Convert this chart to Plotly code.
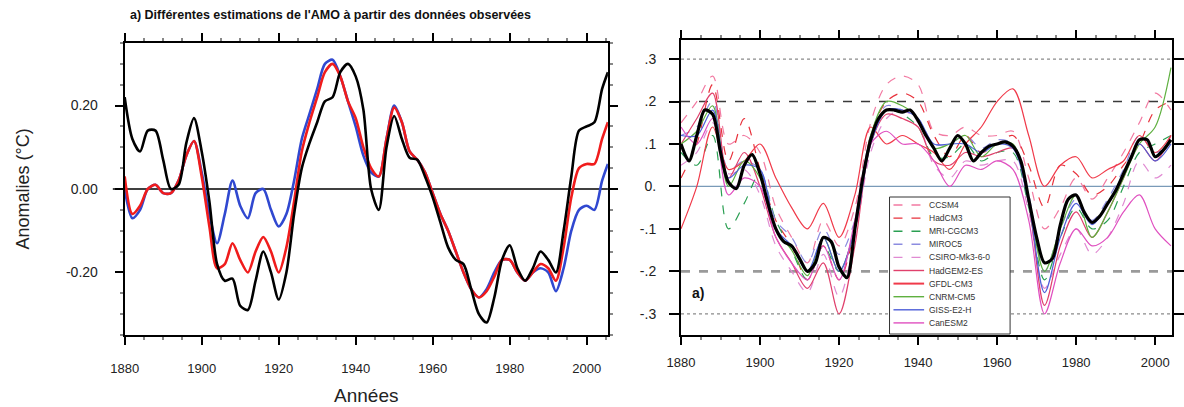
import plotly.graph_objects as go

# ---------------- Left panel data (observed AMO estimates) ----------------
years_obs = list(range(1880, 2005, 2)) + [2005.5]
amo_black = [0.22, 0.12, 0.09, 0.14, 0.14, 0.07, 0.00, 0.01, 0.11, 0.17,
             0.09, -0.03, -0.18, -0.22, -0.215, -0.28, -0.29, -0.22, -0.15, -0.20,
             -0.265, -0.20, -0.06, 0.05, 0.11, 0.16, 0.21, 0.22, 0.28, 0.30,
             0.27, 0.19, 0.00, -0.05, 0.10, 0.175, 0.12, 0.075, 0.07, 0.03,
             -0.02, -0.08, -0.14, -0.17, -0.18, -0.24, -0.30, -0.32, -0.26, -0.17,
             -0.135, -0.19, -0.22, -0.19, -0.15, -0.17, -0.20, -0.10, 0.03, 0.14,
             0.15, 0.16, 0.24, 0.28]
amo_red = [0.03, -0.06, -0.04, 0.00, 0.01, -0.01, -0.01, 0.02, 0.08, 0.115,
           0.03, -0.09, -0.19, -0.18, -0.13, -0.17, -0.20, -0.15, -0.115, -0.15,
           -0.20, -0.14, -0.03, 0.09, 0.16, 0.22, 0.28, 0.30, 0.27, 0.21,
           0.17, 0.10, 0.05, 0.03, 0.12, 0.195, 0.16, 0.09, 0.07, 0.04,
           -0.01, -0.06, -0.10, -0.15, -0.20, -0.24, -0.26, -0.245, -0.21, -0.17,
           -0.17, -0.20, -0.22, -0.20, -0.18, -0.19, -0.22, -0.14, -0.02, 0.05,
           0.06, 0.06, 0.12, 0.16]
amo_blue = [0.00, -0.07, -0.05, 0.00, 0.01, -0.01, -0.01, 0.02, 0.08, 0.115,
            0.04, -0.06, -0.13, -0.06, 0.02, -0.04, -0.07, -0.01, 0.00, -0.05,
            -0.09, -0.06, 0.02, 0.12, 0.18, 0.24, 0.30, 0.31, 0.27, 0.21,
            0.15, 0.08, 0.04, 0.03, 0.12, 0.20, 0.16, 0.09, 0.07, 0.04,
            -0.01, -0.06, -0.10, -0.15, -0.20, -0.24, -0.26, -0.24, -0.20, -0.17,
            -0.17, -0.20, -0.22, -0.20, -0.19, -0.20, -0.245, -0.19, -0.10, -0.05,
            -0.04, -0.05, 0.02, 0.06]

obs_ticks = [-0.2, 0.0, 0.2]
obs_ticktext = ["-0.20", "0.00", "0.20"]
year_ticks = [1880, 1900, 1920, 1940, 1960, 1980, 2000]

# ---------------- Right panel data (CMIP5 models) ----------------
years_mean = list(range(1880, 2005, 2))
ens_mean = [0.10, 0.06, 0.12, 0.18, 0.17, 0.08, 0.01, -0.005, 0.05, 0.075,
            0.03, -0.04, -0.10, -0.13, -0.14, -0.17, -0.20, -0.18, -0.12, -0.13,
            -0.19, -0.215, -0.10, 0.02, 0.11, 0.16, 0.18, 0.18, 0.175, 0.18,
            0.155, 0.12, 0.09, 0.06, 0.09, 0.12, 0.10, 0.06, 0.08, 0.095,
            0.10, 0.105, 0.095, 0.06, -0.03, -0.12, -0.18, -0.17, -0.09, -0.03,
            -0.02, -0.06, -0.085, -0.07, -0.04, -0.01, 0.03, 0.07, 0.11, 0.11,
            0.07, 0.085, 0.11]

years_mod = list(range(1880, 2005, 4))
model_names = ["CCSM4", "HadCM3", "MRI-CGCM3", "MIROC5", "CSIRO-Mk3-6-0",
               "HadGEM2-ES", "GFDL-CM3", "CNRM-CM5", "GISS-E2-H", "CanESM2"]
model_vals = {
    "CCSM4": [0.15, 0.20, 0.26, 0.10, 0.12, 0.08, -0.05, -0.12, -0.18, -0.08, -0.14, -0.05, 0.15, 0.24, 0.26, 0.24,
              0.13, 0.12, 0.14, 0.12, 0.12, 0.13, 0.02, -0.10, -0.05, 0.02, -0.03, 0.02, 0.08, 0.15, 0.22, 0.18],
    "HadCM3": [0.02, 0.10, 0.24, 0.06, 0.16, 0.04, -0.08, -0.14, -0.22, -0.14, -0.22, -0.10, 0.12, 0.20, 0.22, 0.20,
               0.12, 0.07, 0.12, 0.08, 0.10, 0.12, 0.05, -0.05, 0.05, 0.03, -0.02, 0.00, 0.05, 0.10, 0.18, 0.20],
    "MRI-CGCM3": [0.08, 0.05, 0.12, -0.10, -0.04, 0.03, -0.08, -0.15, -0.22, -0.14, -0.20, -0.10, 0.10, 0.18, 0.17, 0.14,
                  0.07, 0.07, 0.10, 0.06, 0.08, 0.08, -0.05, -0.22, -0.12, -0.05, -0.10, -0.08, 0.00, 0.08, 0.10, 0.12],
    "MIROC5": [0.12, 0.14, 0.20, 0.04, 0.06, 0.04, -0.08, -0.12, -0.18, -0.10, -0.16, -0.08, 0.12, 0.19, 0.18, 0.16,
               0.10, 0.10, 0.12, 0.09, 0.11, 0.10, -0.02, -0.20, -0.10, -0.03, -0.08, -0.03, 0.04, 0.12, 0.08, 0.10],
    "CSIRO-Mk3-6-0": [0.05, 0.08, 0.15, 0.03, 0.04, -0.02, -0.14, -0.20, -0.25, -0.16, -0.26, -0.12, 0.08, 0.16, 0.18, 0.15,
                      0.05, 0.02, 0.06, 0.05, 0.06, 0.06, -0.06, -0.24, -0.16, -0.10, -0.16, -0.12, -0.04, 0.06, 0.02, 0.05],
    "HadGEM2-ES": [0.10, 0.16, 0.22, 0.02, 0.08, 0.00, -0.12, -0.18, -0.24, -0.18, -0.30, -0.14, 0.10, 0.17, 0.16, 0.14,
                   0.06, 0.05, 0.08, 0.07, 0.08, 0.09, -0.04, -0.28, -0.14, -0.06, -0.12, -0.06, 0.02, 0.10, 0.06, 0.12],
    "GFDL-CM3": [-0.10, 0.00, 0.14, 0.04, 0.06, 0.10, 0.02, -0.05, -0.10, -0.04, -0.12, -0.02, 0.14, 0.10, 0.12, 0.10,
                 0.08, 0.04, 0.10, 0.14, 0.20, 0.23, 0.12, 0.00, 0.05, 0.07, 0.02, 0.04, 0.06, 0.12, 0.08, 0.12],
    "CNRM-CM5": [0.10, 0.13, 0.19, 0.00, 0.06, 0.02, -0.10, -0.15, -0.21, -0.12, -0.20, -0.10, 0.12, 0.20, 0.19, 0.16,
                 0.09, 0.10, 0.12, 0.07, 0.10, 0.10, -0.04, -0.20, -0.10, -0.02, -0.12, -0.06, 0.02, 0.10, 0.14, 0.28],
    "GISS-E2-H": [0.12, 0.12, 0.18, 0.02, 0.05, 0.04, -0.10, -0.14, -0.20, -0.12, -0.20, -0.10, 0.10, 0.18, 0.18, 0.16,
                  0.10, 0.10, 0.10, 0.08, 0.10, 0.09, -0.04, -0.25, -0.12, -0.04, -0.09, -0.04, 0.03, 0.10, 0.06, 0.10],
    "CanESM2": [0.14, 0.10, 0.16, -0.02, 0.02, 0.00, -0.12, -0.18, -0.22, -0.14, -0.22, -0.08, 0.10, 0.13, 0.10, 0.10,
                0.06, 0.00, 0.05, 0.04, 0.06, 0.04, -0.08, -0.30, -0.18, -0.10, -0.14, -0.12, -0.06, -0.02, -0.10, -0.14],
}
model_colors = {"CCSM4": "#f27aa2", "HadCM3": "#e8323c", "MRI-CGCM3": "#2a9f52", "MIROC5": "#8c8ce0",
                "CSIRO-Mk3-6-0": "#e08ad2", "HadGEM2-ES": "#e0406c", "GFDL-CM3": "#f03a4a",
                "CNRM-CM5": "#5fb040", "GISS-E2-H": "#4f5fd8", "CanESM2": "#e050c0"}
model_dash = {"CCSM4": "dash", "HadCM3": "dash", "MRI-CGCM3": "dash", "MIROC5": "dash",
              "CSIRO-Mk3-6-0": "dash", "HadGEM2-ES": "solid", "GFDL-CM3": "solid",
              "CNRM-CM5": "solid", "GISS-E2-H": "solid", "CanESM2": "solid"}
ref_levels = [0.3, 0.2, 0.0, -0.2, -0.3]
mod_ticks = [-0.3, -0.2, -0.1, 0.0, 0.1, 0.2, 0.3]
mod_ticktext = ["-.3", "-.2", "-.1", "0.", ".1", ".2", ".3"]

W, H = 1184, 407
FONT = "Liberation Sans, Arial, sans-serif"

fig = go.Figure()

# left panel
for vals, col in [(amo_blue, "#3048d0"), (amo_red, "#f01c1c"), (amo_black, "#000000")]:
    fig.add_trace(go.Scatter(x=years_obs, y=vals, mode="lines", xaxis="x", yaxis="y",
                             line=dict(color=col, width=2.6, shape="spline", smoothing=0.8),
                             showlegend=False, hoverinfo="skip"))

# right panel models
for name in model_names:
    fig.add_trace(go.Scatter(x=years_mod, y=model_vals[name], mode="lines", xaxis="x2", yaxis="y2",
                             name=name,
                             line=dict(color=model_colors[name], width=1.2, dash=model_dash[name],
                                       shape="spline", smoothing=0.9),
                             showlegend=False, hoverinfo="skip"))
fig.add_trace(go.Scatter(x=years_mean, y=ens_mean, mode="lines", xaxis="x2", yaxis="y2",
                         line=dict(color="#000000", width=3.2, shape="spline", smoothing=0.8),
                         showlegend=False, hoverinfo="skip"))

shapes = []
# zero line of left panel, slightly overhanging the left frame
shapes.append(dict(type="line", xref="paper", yref="y", x0=100 / W, x1=601 / W, y0=0, y1=0,
                   line=dict(color="black", width=1.5), layer="below"))
ref_styles = {0.3: ("dot", "#8a8a8a", 1.2), 0.2: ("dash", "#3a3a3a", 1.6), 0.0: ("solid", "#7a9ab8", 1.2),
              -0.2: ("dash", "#9a9a9a", 2.6), -0.3: ("dot", "#8a8a8a", 1.2)}
for lv in ref_levels:
    d, c, w = ref_styles[lv]
    shapes.append(dict(type="line", xref="x2", yref="y2", x0=1880, x1=2004.3, y0=lv, y1=lv,
                       line=dict(color=c, width=w, dash=d), layer="below"))

# manual legend box (right panel)
bx0, bx1, by0, by1 = 886, 1008, 197, 334
shapes.append(dict(type="rect", xref="paper", yref="paper", x0=bx0 / W, x1=bx1 / W,
                   y0=1 - by1 / H, y1=1 - by0 / H, fillcolor="white",
                   line=dict(color="#333", width=1), layer="above"))
annotations = []
for i, name in enumerate(model_names):
    yy = 1 - (205 + 13.1 * i) / H
    shapes.append(dict(type="line", xref="paper", yref="paper", x0=890 / W, x1=921 / W, y0=yy, y1=yy,
                       line=dict(color=model_colors[name], width=2.0 if name == "GFDL-CM3" else 1.4,
                                 dash=model_dash[name]), layer="above"))
    annotations.append(dict(xref="paper", yref="paper", x=924 / W, y=yy, text=name, showarrow=False,
                            xanchor="left", yanchor="middle", font=dict(size=8.5, color="#333", family=FONT)))

annotations.append(dict(xref="paper", yref="paper", x=320 / W, y=1 - 15 / H,
                        text="<b>a) Différentes estimations de l'AMO à partir des données observées</b>",
                        showarrow=False, xanchor="center", yanchor="middle",
                        font=dict(size=12.5, color="#111", family=FONT)))
annotations.append(dict(xref="paper", yref="paper", x=692 / W, y=1 - 293 / H, text="<b>a)</b>",
                        showarrow=False, xanchor="center", yanchor="middle",
                        font=dict(size=14, color="#111", family=FONT)))

axis_common = dict(showline=True, linecolor="black", mirror="ticks", ticks="outside",
                   showgrid=False, zeroline=False, tickcolor="black")

fig.update_layout(
    width=W, height=H, margin=dict(l=0, r=0, t=0, b=0),
    paper_bgcolor="white", plot_bgcolor="white",
    font=dict(family=FONT, color="#222"),
    xaxis=dict(domain=[112 / W, 601 / W], range=[1880, 2005.5], tickvals=year_ticks,
               ticklen=8, linewidth=2, tickwidth=1.5, anchor="y", ticklabelstandoff=12,
               tickfont=dict(size=13, color="#222"),
               minor=dict(dtick=5, ticklen=3, tickcolor="#888", ticks="outside"),
               title=dict(text="Années", font=dict(size=19, color="#222"), standoff=14),
               **axis_common),
    yaxis=dict(domain=[1 - 335 / H, 1 - 43 / H], range=[-0.35, 0.35], tickvals=obs_ticks,
               ticktext=obs_ticktext, ticklen=8, linewidth=2, tickwidth=1.5, anchor="x",
               tickfont=dict(size=14, color="#222"), ticklabelstandoff=14,
               minor=dict(dtick=0.05, ticklen=3, tickcolor="#888", ticks="outside"),
               title=dict(text="Anomalies (°C)", font=dict(size=18, color="#222"), standoff=32),
               **axis_common),
    xaxis2=dict(domain=[675 / W, 1172 / W], range=[1880, 2004.3], tickvals=year_ticks,
                ticklen=8, linewidth=2, tickwidth=1.5, anchor="y2", ticklabelstandoff=6,
                tickfont=dict(size=13, color="#222"),
                minor=dict(dtick=5, ticklen=3, tickcolor="#888", ticks="outside"),
                **axis_common),
    yaxis2=dict(domain=[1 - 335 / H, 1 - 40 / H], range=[-0.35, 0.345], tickvals=mod_ticks,
                ticktext=mod_ticktext, ticklen=10, linewidth=2, tickwidth=1.5, anchor="x2",
                tickfont=dict(size=14, color="#222"), ticklabelstandoff=10,
                **axis_common),
    shapes=shapes, annotations=annotations,
)

fig.write_html("out.html")
